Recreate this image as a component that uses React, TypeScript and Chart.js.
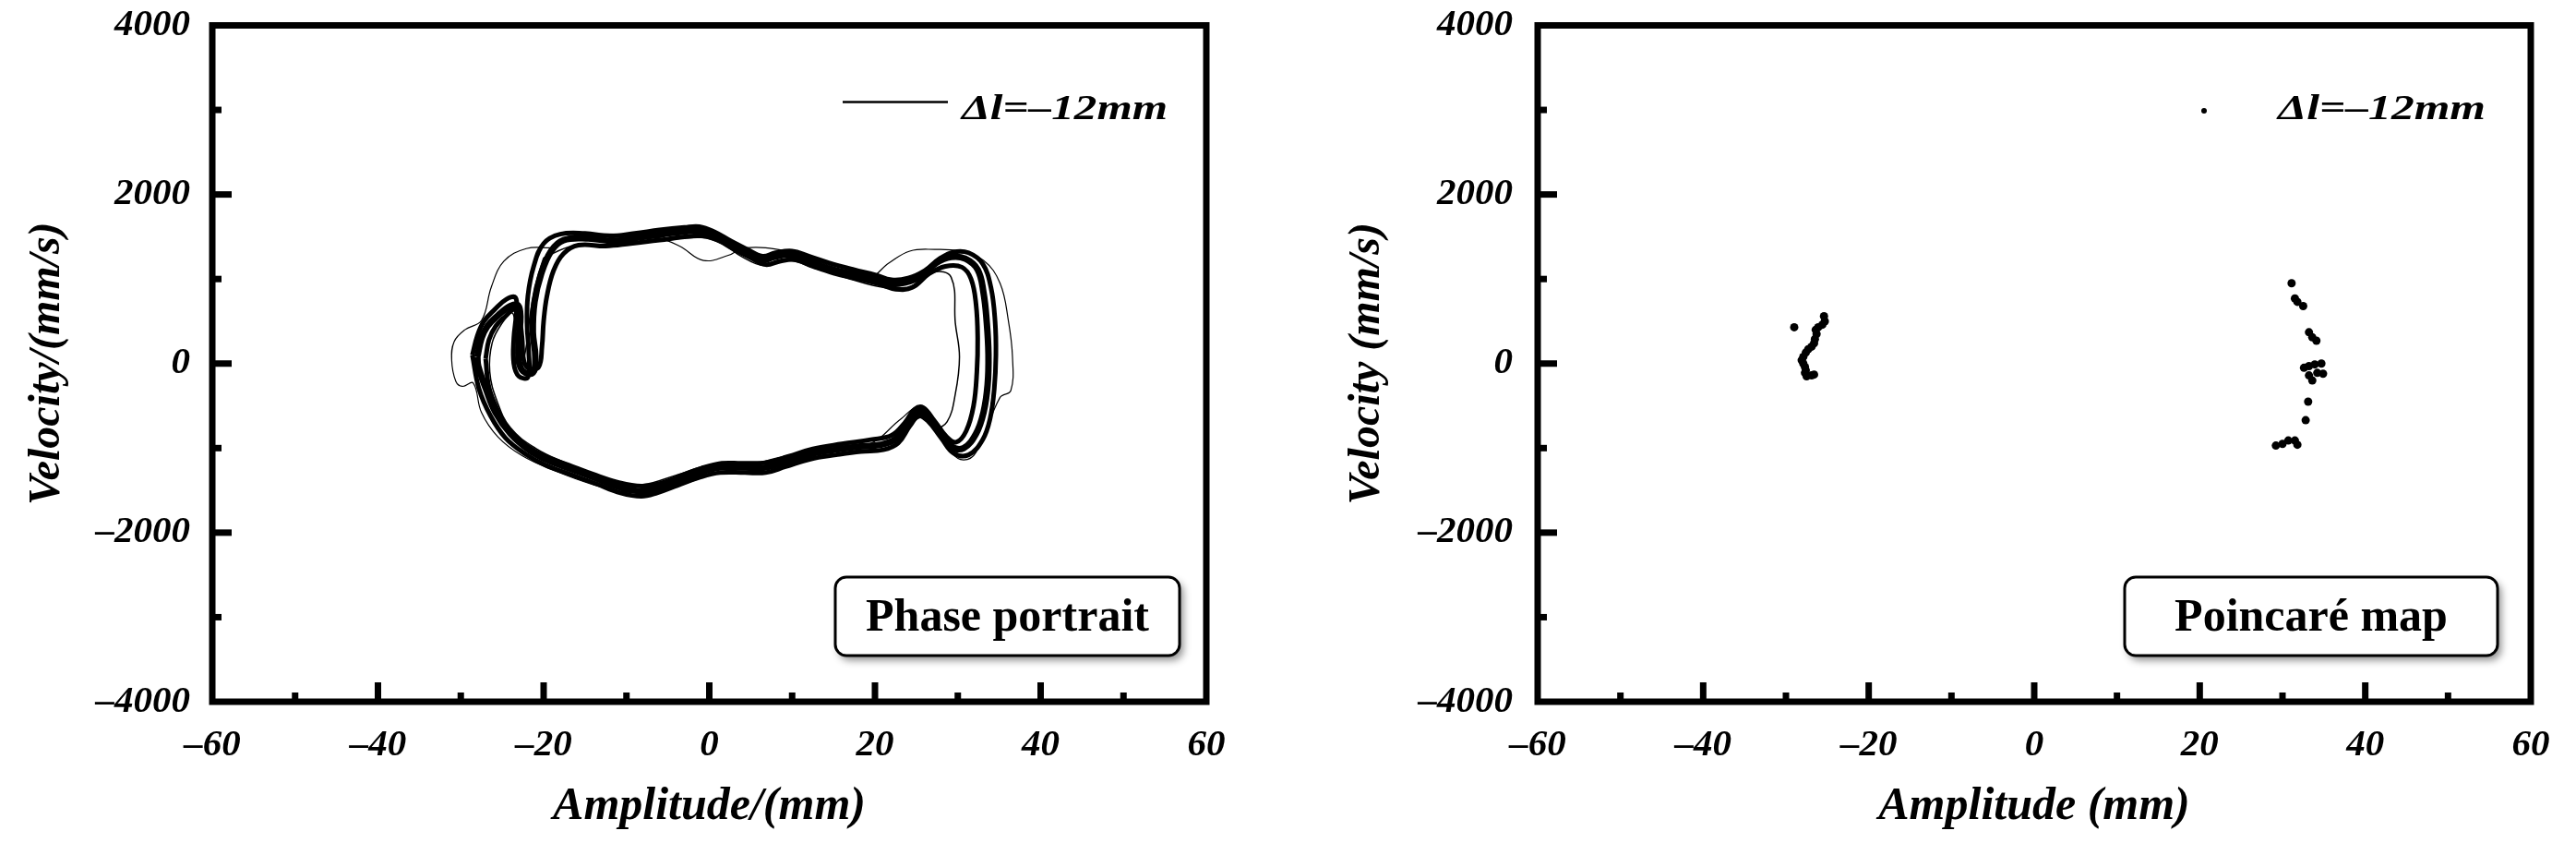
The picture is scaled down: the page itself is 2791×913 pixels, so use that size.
import React, { useEffect, useRef } from 'react';
import { Chart, registerables } from 'chart.js';
Chart.register(...registerables);

const FONT = '"Liberation Serif", "Times New Roman", serif';

// ---------- tick labels / texts ----------
const xMajorTicks = [-60, -40, -20, 0, 20, 40, 60];
const xTickLabels = ['–60', '–40', '–20', '0', '20', '40', '60'];
const yMajorTicks = [-4000, -2000, 0, 2000, 4000];
const yTickLabels = ['–4000', '–2000', '0', '2000', '4000'];
const legendLabel = 'Δl=–12mm';
const panelLabels = ['Phase portrait', 'Poincaré map'];
const xTitles = ['Amplitude/(mm)', 'Amplitude (mm)'];
const yTitles = ['Velocity/(mm/s)', 'Velocity (mm/s)'];

// ---------- phase portrait: main (dense) band ----------
const bandX = [-28.0, -27.5, -26.8, -25.5, -24.0, -23.1, -22.8, -23.0, -23.0, -22.5, -21.3, -21.0, -21.3, -21.1, -20.3, -19.1, -17.6,
  -14.6, -11.6, -8.6, -5.6, -3.2, -0.9, 0.8, 2.8, 4.8, 6.3, 7.8, 9.8, 11.8, 14.2, 17.2, 19.7, 21.7, 23.7, 25.7, 27.4, 29.2, 30.9,
  32.4, 33.1, 33.5, 33.7, 33.6, 33.1, 32.2, 30.7, 29.2, 27.7, 26.2, 25.2, 24.0, 22.5, 20.7, 18.2, 15.2, 12.3, 9.3, 6.8, 4.3, 1.3,
  -1.2, -3.7, -6.2, -8.1, -10.6, -13.6, -16.6, -19.6, -21.8, -24.0, -25.8, -27.0, -27.9, -28.0];
const bandY = [80, 300, 440, 570, 680, 690, 550, 300, 40, -90, -110, 80, 370, 730, 1060, 1330, 1460,
  1480, 1450, 1490, 1530, 1560, 1570, 1510, 1400, 1300, 1220, 1260, 1290, 1220, 1130, 1060, 1000, 940, 960, 1040, 1190, 1260, 1240,
  1110, 840, 480, 110, -250, -580, -830, -1000, -980, -800, -600, -560, -690, -890, -960, -980, -1020, -1070, -1160, -1230, -1230, -1230,
  -1290, -1380, -1470, -1510, -1470, -1360, -1250, -1140, -1020, -830, -580, -290, -30, 80];

// ---------- phase portrait: inner strand of the band ----------
const strandInX = [-27.0, -26.6, -25.8, -24.6, -23.6, -23.0, -22.6, -22.4, -21.8, -20.6, -20.2, -20.0, -19.6, -18.8, -17.6, -15.8,
  -12.5, -9.5, -6.0, -3.0, -0.8, 1.0, 3.0, 5.0, 6.8, 8.5, 10.3, 12.5, 15.0, 18.0, 20.5, 22.5, 24.5, 26.5, 28.5, 30.5, 31.6, 32.2,
  32.4, 32.3, 31.9, 31.0, 29.8, 28.6, 27.2, 25.8, 24.8, 23.6, 22.0, 19.5, 16.0, 12.5, 9.5, 7.0, 4.0, 1.5, -1.0, -3.5, -6.0, -8.2,
  -10.8, -14.0, -17.0, -20.0, -22.2, -24.2, -25.6, -26.6, -27.0];
const strandInY = [60, 280, 440, 560, 640, 560, 300, 40, -60, -40, 200, 500, 800, 1100, 1300, 1400,
  1390, 1420, 1460, 1500, 1510, 1460, 1350, 1250, 1170, 1210, 1230, 1150, 1070, 1000, 940, 880, 900, 1060, 1150, 1140, 1000, 700,
  300, -100, -500, -800, -930, -860, -680, -520, -540, -700, -850, -900, -950, -1010, -1100, -1170, -1180, -1180, -1240, -1330, -1420, -1450,
  -1410, -1310, -1200, -1090, -960, -780, -540, -280, 60];

// ---------- phase portrait: outer strand of the band ----------
const strandOutX = [-28.6, -28.0, -27.2, -25.9, -24.5, -23.4, -23.3, -23.6, -23.6, -23.0, -21.9, -21.8, -22.0, -21.9, -21.2, -20.0,
  -18.0, -15.0, -12.0, -9.0, -6.0, -3.0, -1.2, 0.6, 2.6, 4.6, 6.4, 8.0, 10.0, 12.0, 14.5, 17.5, 20.0, 22.0, 24.0, 26.0, 27.8, 29.5,
  31.3, 33.0, 34.0, 34.5, 34.6, 34.4, 33.9, 33.0, 31.3, 29.5, 28.0, 26.4, 25.3, 24.2, 22.8, 21.0, 18.3, 15.3, 12.2, 9.2, 6.8, 4.3,
  1.3, -1.3, -3.8, -6.3, -8.2, -10.7, -13.7, -16.8, -19.8, -22.2, -24.6, -26.4, -27.8, -28.6];
const strandOutY = [100, 330, 500, 640, 760, 780, 600, 300, 0, -150, -160, 150, 450, 800, 1150, 1420,
  1530, 1540, 1510, 1540, 1580, 1610, 1620, 1560, 1450, 1350, 1270, 1310, 1330, 1270, 1190, 1110, 1050, 990, 1010, 1100, 1240, 1320,
  1310, 1180, 900, 500, 100, -300, -650, -900, -1080, -1060, -880, -680, -620, -740, -940, -1020, -1040, -1080, -1130, -1220, -1290, -1290,
  -1290, -1350, -1440, -1530, -1570, -1530, -1420, -1310, -1200, -1070, -880, -620, -300, 100];

// ---------- phase portrait: outer excursion ----------
const outerX = [-19.1, -22.1, -24.8, -26.3, -27.5, -29.5, -30.8, -31.1, -30.6, -29.8, -28.5, -27.5, -25.5, -22.6, -18.6, -14.1, -10.1,
  -6.7, -3.2, 0.3, 4.3, 9.3, 14.2, 19.2, 23.2, 25.2, 27.2, 29.2, 30.7, 32.2, 35.1, 36.4, 36.6, 36.1, 35.1, 33.1, 30.2, 27.2, 24.2,
  21.7, 19.2, 14.2, 9.3, 4.3, 2.3, -0.7, -3.6, -6.6, -10.6, -14.6, -17.1, -19.1];
const outerY = [1370, 1360, 1210, 910, 510, 400, 260, 40, -210, -270, -230, -580, -870, -1090, -1270, -1430, -1520,
  -1520, -1430, -1310, -1220, -1090, -1020, -960, -650, -520, -720, -1050, -1140, -1050, -400, -320, 80, 510, 950, 1220, 1330, 1350, 1330,
  1190, 1020, 1170, 1330, 1370, 1280, 1220, 1390, 1500, 1530, 1530, 1500, 1370];

// ---------- phase portrait: inner excursion ----------
const innerX = [-20.0, -16.5, -12.0, -6.0, -1.0, 1.5, 4.0, 6.5, 9.5, 13.0, 17.0, 21.0, 24.0, 27.0, 29.2, 29.7, 30.2, 29.7, 28.7, 27.2,
  25.6, 24.2, 22.5, 19.0, 15.0, 10.0, 5.0, 0.0, -4.0, -8.0, -12.0, -17.0, -21.0, -24.0, -25.6, -26.5, -26.2, -25.0, -23.8, -23.4,
  -23.5, -22.8, -22.1, -21.6, -20.8, -20.0];
const innerY = [1250, 1390, 1390, 1450, 1490, 1420, 1260, 1160, 1220, 1120, 1000, 900, 900, 1080, 1020, 480, 80, -360, -690, -760,
  -640, -720, -840, -920, -980, -1100, -1180, -1200, -1320, -1430, -1400, -1190, -1000, -760, -450, -100, 250, 480, 600, 400,
  100, -60, 200, 600, 1000, 1250];

// ---------- Poincaré map points ----------
const poincareX = [-29.0, -25.4, -25.3, -25.6, -26.1, -26.4, -26.3, -26.5, -26.6, -26.9, -27.3, -27.6, -27.9, -28.1, -27.9, -27.7,
  -27.6, -27.7, -27.5, -26.9, -26.6,
  31.1, 31.5, 31.8, 32.5, 33.2, 33.6, 34.1, 32.6, 33.2, 33.9, 34.7, 34.9, 34.2, 33.2, 33.6, 33.1, 32.8, 29.2, 30.0, 30.7, 31.5, 31.8];
const poincareY = [430, 560, 500, 460, 430, 400, 350, 290, 240, 200, 170, 130, 80, 40, 0, -40,
  -80, -110, -150, -140, -130,
  950, 770, 730, 680, 370, 310, 270, -50, -30, -10, 0, -120, -110, -140, -200, -450, -670, -970, -950, -910, -910, -960];

const zip = (xs: number[], ys: number[]) => xs.map((x, i) => ({ x, y: ys[i] }));

type Panel = {
  left: number; width: number; padRight: number; yAxisWidth: number; yTitlePad: number; yTickPad: number;
  kind: 'phase' | 'poincare'; idx: number;
  legendLine?: [number, number]; legendDot?: number; legendTextX: number; legendTextW: number;
  box: [number, number, number, number];
};

const panels: Panel[] = [
  { left: 0, width: 1395, padRight: 88, yAxisWidth: 230, yTitlePad: 23, yTickPad: 24, kind: 'phase', idx: 0,
    legendLine: [913, 1027], legendTextX: 1042, legendTextW: 223, box: [905, 625, 373, 85] },
  { left: 1395, width: 1396, padRight: 49, yAxisWidth: 271, yTitlePad: 58, yTickPad: 27, kind: 'poincare', idx: 1,
    legendDot: 993, legendTextX: 1073, legendTextW: 225, box: [907, 625, 404, 85] },
];

function makeOverlay(p: Panel) {
  return {
    id: 'overlay' + p.idx,
    afterDraw(chart: any) {
      const ctx: CanvasRenderingContext2D = chart.ctx;
      const a = chart.chartArea;
      const xs = chart.scales.x;
      const ys = chart.scales.y;
      ctx.save();
      ctx.strokeStyle = '#000';
      ctx.fillStyle = '#000';
      ctx.lineCap = 'butt';
      ctx.lineWidth = 7;
      for (const t of xs.ticks) {
        if (t.value <= xs.min || t.value >= xs.max) continue;
        const px = xs.getPixelForValue(t.value);
        const len = xMajorTicks.includes(t.value) ? 21 : 10;
        ctx.beginPath(); ctx.moveTo(px, a.bottom); ctx.lineTo(px, a.bottom - len); ctx.stroke();
      }
      for (const t of ys.ticks) {
        if (t.value <= ys.min || t.value >= ys.max) continue;
        const py = ys.getPixelForValue(t.value);
        const len = yMajorTicks.includes(t.value) ? 21 : 10;
        ctx.beginPath(); ctx.moveTo(a.left, py); ctx.lineTo(a.left + len, py); ctx.stroke();
      }
      ctx.lineJoin = 'miter';
      ctx.strokeRect(a.left, a.top, a.right - a.left, a.bottom - a.top);

      // legend
      if (p.legendLine) {
        ctx.lineWidth = 2.5;
        ctx.beginPath(); ctx.moveTo(p.legendLine[0], 110.5); ctx.lineTo(p.legendLine[1], 110.5); ctx.stroke();
      }
      if (p.legendDot !== undefined) {
        ctx.beginPath(); ctx.arc(p.legendDot, 120, 3, 0, Math.PI * 2); ctx.fill();
      }
      ctx.font = `italic bold 38px ${FONT}`;
      ctx.textBaseline = 'alphabetic';
      ctx.textAlign = 'left';
      const w = ctx.measureText(legendLabel).width;
      ctx.save();
      ctx.translate(p.legendTextX, 129);
      ctx.scale(p.legendTextW / w, 1);
      ctx.fillText(legendLabel, 0, 0);
      ctx.restore();

      // label box
      const [bx, by, bw, bh] = p.box;
      const r = 12;
      const path = () => {
        ctx.beginPath();
        ctx.moveTo(bx + r, by);
        ctx.arcTo(bx + bw, by, bx + bw, by + bh, r);
        ctx.arcTo(bx + bw, by + bh, bx, by + bh, r);
        ctx.arcTo(bx, by + bh, bx, by, r);
        ctx.arcTo(bx, by, bx + bw, by, r);
        ctx.closePath();
      };
      ctx.save();
      ctx.shadowColor = 'rgba(0,0,0,0.45)';
      ctx.shadowBlur = 8;
      ctx.shadowOffsetX = 4;
      ctx.shadowOffsetY = 5;
      path();
      ctx.fillStyle = '#fff';
      ctx.fill();
      ctx.restore();
      path();
      ctx.lineWidth = 3;
      ctx.stroke();
      ctx.font = `bold 50px ${FONT}`;
      ctx.textAlign = 'center';
      ctx.fillStyle = '#000';
      ctx.fillText(panelLabels[p.idx], bx + bw / 2, 683);
      ctx.restore();
    },
  };
}

function ChartPanel({ p }: { p: Panel }) {
  const ref = useRef<HTMLCanvasElement>(null);
  useEffect(() => {
    const canvas = ref.current!;
    const line = (xs: number[], ys: number[], w: number) => ({
      data: zip(xs, ys), showLine: true, borderColor: '#000', borderWidth: w, pointRadius: 0, tension: 0.4,
    });
    const datasets: any[] = p.kind === 'phase'
      ? [
          line(outerX, outerY, 1.2),
          line(innerX, innerY, 1.5),
          line(strandOutX, strandOutY, 5),
          line(strandInX, strandInY, 5),
          line(bandX, bandY, 7),
        ]
      : [
          { data: zip(poincareX, poincareY), showLine: false, pointRadius: 4.5, pointBackgroundColor: '#000', pointBorderWidth: 0, pointStyle: 'circle' },
        ];
    const tickFont = { family: FONT, size: 41, style: 'italic' as const, weight: 'bold' as const };
    const titleFontX = { family: FONT, size: 50, style: 'italic' as const, weight: 'bold' as const };
    const titleFontY = { family: FONT, size: 48, style: 'italic' as const, weight: 'bold' as const };
    const chart = new Chart(canvas, {
      type: 'scatter',
      data: { datasets },
      options: {
        animation: false,
        responsive: false,
        devicePixelRatio: 1,
        layout: { padding: { top: 27.5, right: p.padRight, left: 0, bottom: 0 } },
        plugins: { legend: { display: false }, tooltip: { enabled: false } },
        scales: {
          x: {
            type: 'linear', min: -60, max: 60,
            ticks: {
              stepSize: 10, autoSkip: false, maxRotation: 0, color: '#000', font: tickFont, padding: 23,
              callback: (v: any) => { const i = xMajorTicks.indexOf(Number(v)); return i >= 0 ? xTickLabels[i] : ''; },
            },
            grid: { display: false, drawTicks: false },
            border: { display: false },
            title: { display: true, text: xTitles[p.idx], color: '#000', font: titleFontX, padding: { top: 0, bottom: 9 } },
            afterFit: (s: any) => { s.height = 153; s.paddingLeft = 0; s.paddingRight = 0; },
          },
          y: {
            type: 'linear', min: -4000, max: 4000,
            ticks: {
              stepSize: 1000, autoSkip: false, color: '#000', font: tickFont, padding: p.yTickPad,
              callback: (v: any) => { const i = yMajorTicks.indexOf(Number(v)); return i >= 0 ? yTickLabels[i] : ''; },
            },
            grid: { display: false, drawTicks: false },
            border: { display: false },
            title: { display: true, text: yTitles[p.idx], color: '#000', font: titleFontY, padding: { top: p.yTitlePad, bottom: 0 } },
            afterFit: (s: any) => { s.width = p.yAxisWidth; s.paddingTop = 0; s.paddingBottom = 0; },
          },
        },
      },
      plugins: [makeOverlay(p)],
    } as any);
    return () => chart.destroy();
  }, [p]);
  return (
    <canvas
      ref={ref}
      width={p.width}
      height={913}
      style={{ position: 'absolute', left: p.left, top: 0, width: p.width, height: 913, display: 'block' }}
    />
  );
}

export default function App() {
  return (
    <div style={{ position: 'absolute', left: 0, top: 0, width: 2791, height: 913, background: '#fff', overflow: 'hidden' }}>
      {panels.map((p) => <ChartPanel key={p.idx} p={p} />)}
    </div>
  );
}
